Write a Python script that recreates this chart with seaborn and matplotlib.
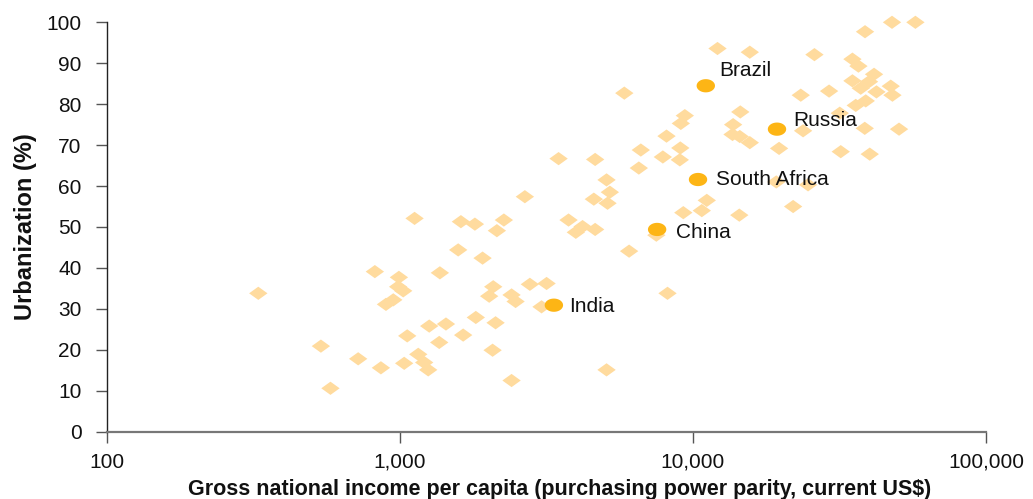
import numpy as np
import matplotlib
matplotlib.use("Agg")
import matplotlib.pyplot as plt
import matplotlib.ticker as mticker
from matplotlib.markers import MarkerStyle
import seaborn as sns

# 各国数据
gni = [329, 538, 580, 721, 822, 862, 993, 987, 1027, 950, 897, 1035, 1060, 1156,
       1211, 1250, 1123, 1260, 1370, 1363, 1437, 1582, 1616, 1645, 1804, 1817,
       1916, 2018, 2083, 2122, 2073, 2144, 2265, 2406, 2483, 2406, 2671, 2778,
       3168, 3045, 3481, 3765, 3986, 4203, 4639, 4639, 4592, 5074, 5208, 5114,
       5074, 5834, 6058, 6642, 6539, 7503, 7897, 8128, 8192, 9057, 9022, 9095,
       9385, 9274, 10724, 11153, 12133, 13716, 13652, 14511, 14455, 15636, 14398,
       15636, 19249, 19679, 21976, 23335, 23763, 24713, 25981, 29148, 31700,
       31947, 35020, 36710, 35020, 37380, 39900, 41500, 42290, 38660, 47790,
       57430, 47320, 47950, 38880, 35940, 38580, 50500, 40120]
urban = [33.8, 20.9, 10.6, 17.8, 39.1, 15.6, 37.7, 35.4, 34.4, 32.2, 31.1, 16.7,
         23.4, 18.9, 16.9, 15.1, 52.1, 25.8, 38.8, 21.8, 26.3, 44.4, 51.3, 23.6,
         50.7, 27.9, 42.4, 33.1, 35.4, 26.6, 19.9, 49.1, 51.7, 33.4, 31.8, 12.5,
         57.4, 36.0, 36.2, 30.5, 66.7, 51.7, 48.7, 50.1, 49.4, 66.5, 56.8, 61.5,
         58.5, 55.8, 15.1, 82.7, 44.1, 68.8, 64.4, 48.0, 67.1, 72.2, 33.8, 69.3,
         66.4, 75.3, 77.2, 53.5, 54.0, 56.5, 93.6, 75.0, 72.6, 78.1, 72.1, 70.6,
         52.9, 92.7, 61.0, 69.2, 55.0, 82.2, 73.5, 60.3, 92.1, 83.2, 77.8, 68.4,
         91.0, 89.3, 85.7, 83.9, 85.5, 87.3, 83.0, 97.7, 100.0, 100.0, 84.4, 82.2,
         80.8, 79.7, 74.1, 73.9, 67.8]

# 金砖国家
brics = ["Brazil", "Russia", "South Africa", "China", "India"]
brics_gni = [11066, 19360, 10410, 7550, 3355]
brics_urban = [84.5, 73.9, 61.6, 49.4, 30.9]
# 标签偏移（points）
label_offsets = [(9.5, 7), (12, 2), (13, -4), (13.5, -5.8), (11, -4.8)]

x_ticks = [100, 1000, 10000, 100000]
y_ticks = list(range(0, 101, 10))

sns.set_theme(style="white")
plt.rcParams["font.family"] = ["Liberation Sans", "DejaVu Sans"]

fig = plt.figure(figsize=(10.33, 4.99), dpi=100)
ax = fig.add_axes([0.1033, 0.1349, 0.8512, 0.8204])

# 扁平菱形和椭圆标记
diamond = MarkerStyle([(-1, 0), (0, 0.72), (1, 0), (0, -0.72), (-1, 0)])
t = np.linspace(0, 2 * np.pi, 60)
ellipse = MarkerStyle(list(zip(np.cos(t), 0.72 * np.sin(t))))

sns.scatterplot(x=gni, y=urban, ax=ax, marker=diamond, s=175,
                color="#FFDB9E", linewidth=0, edgecolor="none", clip_on=False,
                zorder=2)
sns.scatterplot(x=brics_gni, y=brics_urban, ax=ax, marker=ellipse, s=175,
                color="#FDB515", linewidth=0, edgecolor="none", clip_on=False,
                zorder=3)

for name, gx, uy, off in zip(brics, brics_gni, brics_urban, label_offsets):
    ax.annotate(name, (gx, uy), xytext=off, textcoords="offset points",
                ha="left", va="baseline", fontsize=15, color="#111111",
                zorder=4)

ax.set_xscale("log")
ax.set_xlim(100, 100000)
ax.set_ylim(0, 100)
ax.xaxis.set_major_locator(mticker.FixedLocator(x_ticks))
ax.xaxis.set_major_formatter(mticker.FuncFormatter(lambda v, p: f"{int(v):,}"))
ax.xaxis.set_minor_locator(mticker.NullLocator())
ax.set_yticks(y_ticks)

for s in ["top", "right"]:
    ax.spines[s].set_visible(False)
ax.spines["left"].set_color("#222222")
ax.spines["left"].set_linewidth(1.0)
ax.spines["bottom"].set_color("#777777")
ax.spines["bottom"].set_linewidth(1.6)

ax.tick_params(axis="y", direction="out", length=8, width=1, color="#555555",
               pad=10, labelsize=15, labelcolor="#111111", left=True)
ax.tick_params(axis="x", direction="out", length=8, width=1, color="#555555",
               pad=7, labelsize=15, labelcolor="#111111", bottom=True)

ax.set_xlabel("Gross national income per capita (purchasing power parity, current US$)",
              fontsize=15.5, fontweight="bold", color="#111111")
ax.xaxis.set_label_coords(0.515, -0.115)
ax.set_ylabel("Urbanization (%)", fontsize=17, fontweight="bold",
              color="#111111", labelpad=7)
ax.grid(False)

fig.savefig("out.png", dpi=100)
